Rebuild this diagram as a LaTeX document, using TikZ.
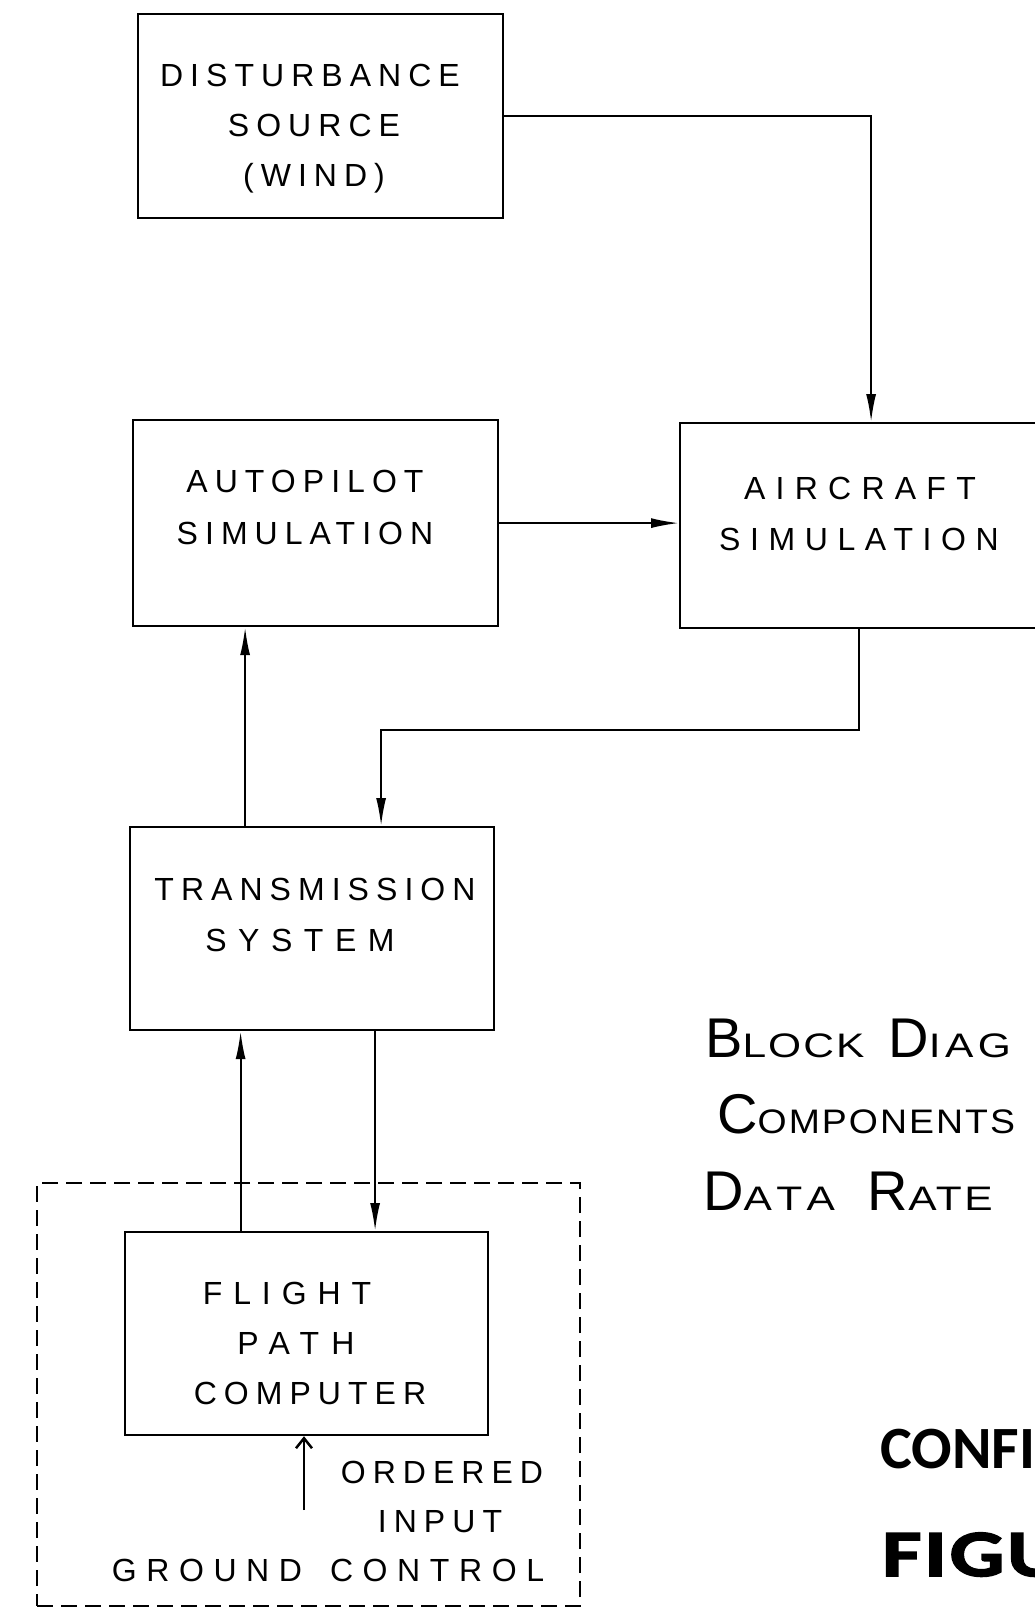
\documentclass[tikz,border=0pt]{standalone}
\usepackage{fontspec}
\setmainfont{Liberation Sans}
\newfontfamily\handfont[LetterSpace=22]{Liberation Sans}
\newfontfamily\tbig[LetterSpace=4]{Liberation Sans}
\newfontfamily\confont{Carlito}
\newfontfamily\figfont[FakeBold=2.5,FakeStretch=1.3,LetterSpace=4]{Carlito Bold}
\usetikzlibrary{arrows.meta}
\newcommand{\BigS}[1]{{\tbig\fontsize{56}{56}\selectfont #1}}
\newcommand{\SmlS}[3]{{\tbig\addfontfeatures{FakeStretch=#1,LetterSpace=#2}\fontsize{34}{34}\selectfont #3}}
\newcommand{\wide}[2]{{\addfontfeatures{LetterSpace=#1}#2}}
\begin{document}
\begin{tikzpicture}[x=1pt,y=-1pt,
  blockbox/.style={draw, line width=2.2pt, anchor=north west, inner sep=0pt},
  lbl/.style={anchor=base, inner sep=0pt, font=\handfont\fontsize{32}{32}\selectfont},
  ttl/.style={anchor=base west, inner sep=0pt, font=\rmfamily\fontsize{34}{34}\selectfont},
  conn/.style={line width=2pt, -{Latex[length=28pt,width=10pt]}},
  openin/.style={line width=2.5pt, -{Straight Barb[length=10pt,width=16pt,line width=2.5pt]}},
  gnd/.style={draw, line width=2pt, dash pattern=on 16pt off 8pt, anchor=north west, inner sep=0pt}]
\useasboundingbox (0,0) rectangle (1035,1608);
\clip (0,0) rectangle (1035,1608);
\fill[white] (0,0) rectangle (1035,1608);

% blocks
\node[blockbox, minimum width=365, minimum height=204] (dist) at (137,13) {};
\node[blockbox, minimum width=365, minimum height=206] (auto) at (132,419) {};
\node[blockbox, minimum width=382, minimum height=205] (air) at (679,422) {};
\node[blockbox, minimum width=364, minimum height=203] (trans) at (129,826) {};
\node[blockbox, minimum width=363, minimum height=203] (fpc) at (124,1231) {};
\node[gnd, minimum width=543, minimum height=423] (ground) at (36,1182) {};

% block texts
\node[lbl] (d1) at (310,87) {DISTURBANCE};
\node[lbl] (d2) at (314,137) {SOURCE};
\node[lbl] (d3) at (314,186) {(WIND)};
\node[lbl] (a1) at (305,492) {AUTOPILOT};
\node[lbl] (a2) at (305,544) {SIMULATION};
\node[lbl] (c1) at (860,499) {\wide{32}{AIRCRAFT}};
\node[lbl] (c2) at (859,550) {\wide{30}{SIMULATION}};
\node[lbl] (t1) at (315,900) {TRANSMISSION};
\node[lbl] (t2) at (300,951) {\wide{36}{SYSTEM}};
\node[lbl] (f1) at (287,1304) {\wide{34}{FLIGHT}};
\node[lbl] (f2) at (296,1354) {\wide{38}{PATH}};
\node[lbl] (f3) at (310,1404) {COMPUTER};
\node[lbl] (o1) at (442,1483) {ORDERED};
\node[lbl] (o2) at (440,1532) {INPUT};
\node[lbl] (g1) at (328,1581) {\wide{30}{GROUND}\hspace{28pt}\wide{30}{CONTROL}};

% connectors
\draw[conn] (dist.east) -- (dist.east -| air.north) -- (air.north);
\draw[conn] (auto.east) -- (auto.east -| air.west);
\draw[conn] ([xshift=-12pt]air.south) -- ++(0,101) -| ([xshift=69pt]trans.north);
\draw[conn] ([xshift=-67pt]trans.north) -- ([xshift=-67pt]trans.north |- auto.south);
\draw[conn] ([xshift=-66pt]fpc.north) -- ([xshift=-66pt]fpc.north |- trans.south);
\draw[conn] ([xshift=63pt]trans.south) -- ([xshift=63pt]trans.south |- fpc.north);
\coordinate (oi) at (304,1510);
\draw[openin] (oi) -- (oi |- fpc.south);

% title texts
\node[ttl] (b1) at (705,1057) {\BigS{B}\SmlS{1.25}{6}{LOCK}\hspace{24pt}\BigS{D}\SmlS{1.25}{13}{IAG}};
\node[ttl] (b2) at (717,1133) {\BigS{C}\SmlS{1.1}{6}{OMPONENTS}};
\node[ttl] (b3) at (703,1210) {\BigS{D}\SmlS{1.25}{22}{ATA}\hspace{33pt}\BigS{R}\SmlS{1.25}{7}{ATE}};
\node[anchor=base west, inner sep=0pt, font=\confont\bfseries\fontsize{60}{60}\selectfont] (conf) at (880,1468) {CONFI};
\node[anchor=base west, inner sep=0pt, font=\figfont\fontsize{66}{66}\selectfont] (fig) at (882,1576) {FIGU};
\end{tikzpicture}
\end{document}
